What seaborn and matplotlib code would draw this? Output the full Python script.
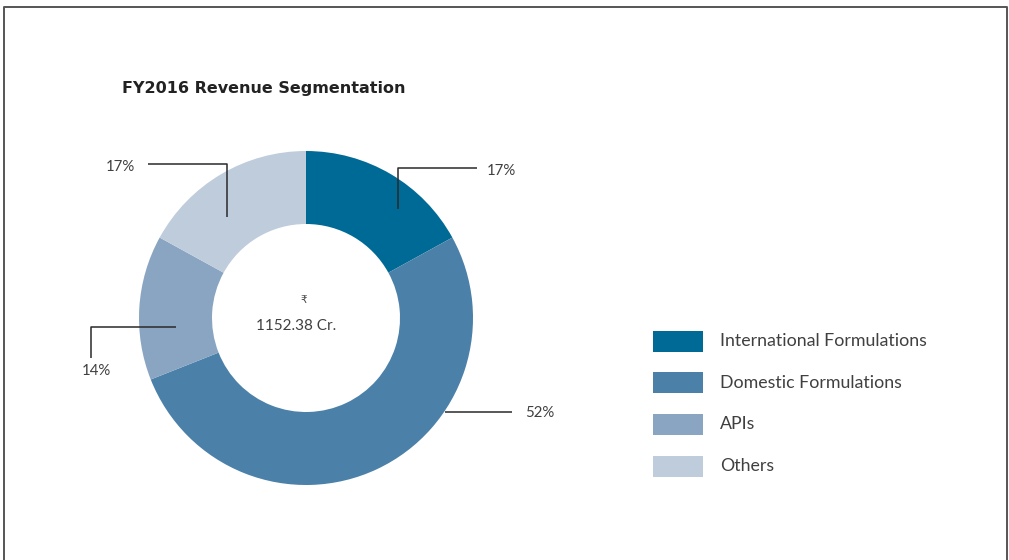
import matplotlib
matplotlib.use("Agg")
import matplotlib.pyplot as plt
import seaborn as sns
from matplotlib.patches import Rectangle
from matplotlib.lines import Line2D

# Data
categories = ["International Formulations", "Domestic Formulations", "APIs", "Others"]
shares = [17, 52, 14, 17]
pct_labels = ["17%", "52%", "14%", "17%"]
total_label = "1152.38 Cr."
title = "FY2016 Revenue Segmentation"

colors = ["#006a97", "#4b80a9", "#89a5c2", "#bfccdc"]
text_color = "#404040"

sns.set_theme(style="white")
plt.rcParams["font.family"] = ["Lato", "DejaVu Sans"]

W, H = 1009, 560
fig = plt.figure(figsize=(W / 100, H / 100), dpi=100)
# axes in pixel units, y pointing up
ax = fig.add_axes([0, 0, 1, 1])

def Y(y):
    return H - y

# Donut
cx, cy, r_out, r_in = 306, 318, 167, 94
ax.pie(shares, colors=colors, startangle=90, counterclock=False,
       center=(cx, Y(cy)), radius=r_out, frame=True,
       wedgeprops=dict(width=r_out - r_in, linewidth=0))
ax.set_xlim(0, W)
ax.set_ylim(0, H)
ax.axis("off")

# Center text
ax.text(cx - 2, Y(300), "\u20b9", ha="center", va="center", fontsize=7.5,
        color=text_color, family=["DejaVu Sans"])
ax.text(cx - 10, Y(326), total_label, ha="center", va="center", fontsize=11,
        color=text_color)

# Leader lines (image pixel layout) and label placements
leaders = [
    ([(398, 209), (398, 168), (477, 168)], (487, 171), "left"),
    ([(445, 412), (512, 412)], (525, 413), "left"),
    ([(176, 327), (91, 327), (91, 358)], (96, 371), "center"),
    ([(227, 217), (227, 164), (148, 164)], (135, 167), "right"),
]
for (pts, (tx, ty), ha), lab in zip(leaders, pct_labels):
    xs = [p[0] for p in pts]
    ys = [Y(p[1]) for p in pts]
    ax.plot(xs, ys, color="#2a2a2a", linewidth=1.1, solid_capstyle="butt")
    ax.text(tx, Y(ty), lab, ha=ha, va="center", fontsize=10.8, color=text_color)

# Title
ax.text(122, Y(89), title, ha="left", va="center", fontsize=11.5,
        fontweight="bold", color="#222222", family=["DejaVu Sans"])

# Legend
for i, (name, col) in enumerate(zip(categories, colors)):
    yc = 341 + i * 41.7
    ax.add_patch(Rectangle((653, Y(yc + 10.5)), 50, 21, facecolor=col, edgecolor="none"))
    ax.text(720, Y(yc), name, ha="left", va="center", fontsize=12.8, color=text_color)

# Frame (open at the bottom)
frame_pts = [(4, 570), (4, 6.5), (1007, 6.5), (1007, 570)]
fig.add_artist(Line2D([p[0] / W for p in frame_pts], [1 - p[1] / H for p in frame_pts],
                      transform=fig.transFigure, color="#555555", linewidth=1.4))

fig.savefig("out.png", dpi=100)
